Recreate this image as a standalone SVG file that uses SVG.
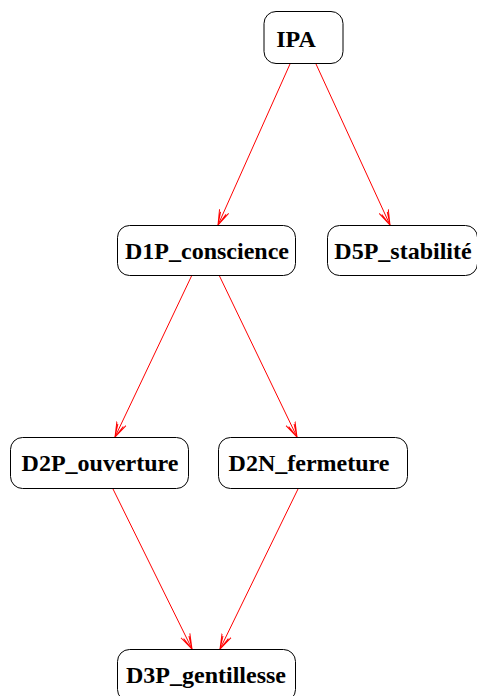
<svg xmlns="http://www.w3.org/2000/svg" width="477" height="696" viewBox="0 0 477 696">
<style>
.node rect{fill:#fff;stroke:#000;stroke-width:1}
.node text{font-family:"Liberation Serif","Times New Roman",serif;font-weight:bold;font-size:24px;text-anchor:middle;fill:#000}
.edge{stroke:#f00;stroke-width:1;fill:none;marker-end:url(#vee)}
</style>
<defs>
<marker id="vee" markerWidth="16" markerHeight="12" refX="15" refY="6" orient="auto" markerUnits="userSpaceOnUse">
<path d="M0,1 L15,6 L0,11 M2,3 L15,6 L2,9" fill="none" stroke="#f00" stroke-width="1"/>
</marker>
</defs>
<rect width="477" height="696" fill="#fff"/>
<g id="edges">
<line class="edge" x1="290" y1="64" x2="218" y2="225"/>
<line class="edge" x1="316" y1="64" x2="390" y2="225"/>
<line class="edge" x1="192" y1="275" x2="115" y2="437"/>
<line class="edge" x1="219" y1="275" x2="297" y2="437"/>
<line class="edge" x1="113" y1="489" x2="192" y2="649"/>
<line class="edge" x1="298" y1="489" x2="220" y2="649"/>
</g>
<g id="IPA" class="node"><rect x="264" y="11.5" width="79" height="52" rx="12"/><text x="296" y="47">IPA</text></g>
<g id="D1P_conscience" class="node"><rect x="117.5" y="225.5" width="178" height="50" rx="12"/><text x="207" y="259">D1P_conscience</text></g>
<g id="D5P_stabilite" class="node"><rect x="327.5" y="225.5" width="150" height="50" rx="12"/><text x="403" y="259">D5P_stabilité</text></g>
<g id="D2P_ouverture" class="node"><rect x="10.5" y="437.5" width="178" height="51" rx="12"/><text x="100" y="471">D2P_ouverture</text></g>
<g id="D2N_fermeture" class="node"><rect x="218.5" y="437.5" width="189" height="51" rx="12"/><text x="309" y="471">D2N_fermeture</text></g>
<g id="D3P_gentillesse" class="node"><rect x="117.5" y="649.5" width="178" height="52" rx="12"/><text x="206" y="683">D3P_gentillesse</text></g>
</svg>
